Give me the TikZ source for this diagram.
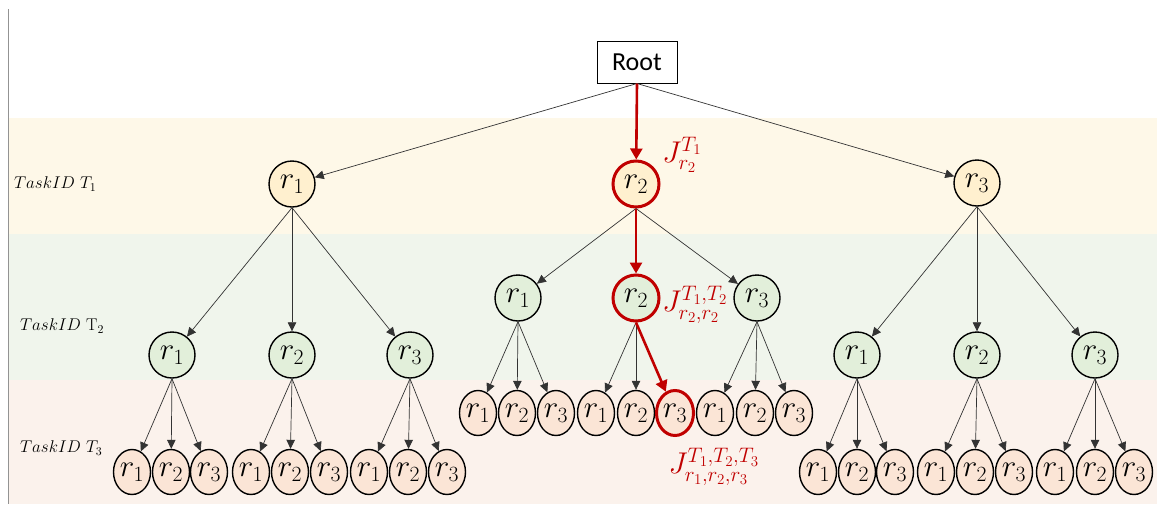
\RequirePackage{fix-cm}
\documentclass[tikz,border=0pt]{standalone}
\usepackage{fontspec}
\newfontfamily\rootfont{Carlito}
\usetikzlibrary{arrows.meta,shapes.geometric}

\definecolor{bandY}{HTML}{FEF8E8}
\definecolor{bandG}{HTML}{F0F5EC}
\definecolor{bandP}{HTML}{FBF2EC}
\definecolor{nodeY}{HTML}{FFF0CF}
\definecolor{nodeG}{HTML}{E2EFDA}
\definecolor{nodeP}{HTML}{FBE5D6}
\definecolor{hred}{HTML}{C00000}

% resource symbol with its index
\newcommand\rx[1]{$r_{#1}$}

\tikzset{
  mathsz/.style={font=\fontsize{31}{33}\selectfont},
  lvlone/.style={circle, draw, line width=1.4pt, fill=nodeY, minimum size=46pt, inner sep=0pt, mathsz},
  lvltwo/.style={circle, draw, line width=1.4pt, fill=nodeG, minimum size=46pt, inner sep=0pt, mathsz},
  leaf/.style={ellipse, draw, line width=1.4pt, fill=nodeP, minimum width=37pt, minimum height=45pt, inner sep=0pt, mathsz},
  sel/.style={draw=hred, line width=3pt},
  edge/.style={draw=black!80, line width=0.7pt, -{Triangle[length=9pt,width=8.5pt]}},
  redge/.style={draw=hred, line width=2.6pt, -{Triangle[length=11pt,width=12pt]}},
  tasklbl/.style={anchor=west, inner sep=0pt, font=\fontsize{17}{19}\selectfont},
  jlbl/.style={text=hred, inner sep=0pt, font=\fontsize{30}{32}\selectfont}
}

\begin{document}
\begin{tikzpicture}[x=1pt,y=-1pt]
\useasboundingbox (0,0) rectangle (1157,504);

% level bands
\fill[bandY] (9,118) rectangle (1157,234);
\fill[bandG] (9,234) rectangle (1157,380);
\fill[bandP] (9,380) rectangle (1157,504);
\draw[gray!85, line width=1.2pt] (8.5,9) -- (8.5,504);

% level captions
\node[tasklbl] (t1) at (14,184) {$TaskID~T_1$};
\node[tasklbl] (t2) at (20,326) {$TaskID~\mathrm{T}_2$};
\node[tasklbl] (t3) at (20,448) {$TaskID~T_3$};

% root
\node[draw, line width=1pt, fill=white, minimum width=80pt, minimum height=42pt,
      font=\rootfont\fontsize{26}{28}\selectfont] (root) at (637,62) {Root};

% first level
\node[lvlone] (a1) at (292,184) {\rx1};
\node[lvlone, sel] (a2) at (636,184) {\rx2};
\node[lvlone] (a3) at (977,183) {\rx3};

% second level
\node[lvltwo] (b11) at (172,355) {\rx1};
\node[lvltwo] (b12) at (292,355) {\rx2};
\node[lvltwo] (b13) at (410,355) {\rx3};
\node[lvltwo] (b21) at (518,298) {\rx1};
\node[lvltwo, sel] (b22) at (636,298) {\rx2};
\node[lvltwo] (b23) at (757,298) {\rx3};
\node[lvltwo] (b31) at (857,355) {\rx1};
\node[lvltwo] (b32) at (977,355) {\rx2};
\node[lvltwo] (b33) at (1095,355) {\rx3};

% third level
\node[leaf] (c111) at (132,472) {\rx1};
\node[leaf] (c112) at (171,472) {\rx2};
\node[leaf] (c113) at (209,472) {\rx3};
\node[leaf] (c121) at (251,472) {\rx1};
\node[leaf] (c122) at (290,472) {\rx2};
\node[leaf] (c123) at (329,472) {\rx3};
\node[leaf] (c131) at (369,472) {\rx1};
\node[leaf] (c132) at (408,472) {\rx2};
\node[leaf] (c133) at (447,472) {\rx3};

\node[leaf] (c211) at (478,413) {\rx1};
\node[leaf] (c212) at (517,413) {\rx2};
\node[leaf] (c213) at (556,413) {\rx3};
\node[leaf] (c221) at (596,413) {\rx1};
\node[leaf] (c222) at (636,413) {\rx2};
\node[leaf, sel] (c223) at (675,413) {\rx3};
\node[leaf] (c231) at (715,413) {\rx1};
\node[leaf] (c232) at (755,413) {\rx2};
\node[leaf] (c233) at (794,413) {\rx3};

\node[leaf] (c311) at (818,472) {\rx1};
\node[leaf] (c312) at (857,472) {\rx2};
\node[leaf] (c313) at (895,472) {\rx3};
\node[leaf] (c321) at (936,472) {\rx1};
\node[leaf] (c322) at (975,472) {\rx2};
\node[leaf] (c323) at (1014,472) {\rx3};
\node[leaf] (c331) at (1055,472) {\rx1};
\node[leaf] (c332) at (1095,472) {\rx2};
\node[leaf] (c333) at (1134,472) {\rx3};

% connectors
\draw[edge] (root.south) -- (a1);
\draw[edge] (root.south) -- (a3);
\foreach \p/\c in {a1/b11, a1/b12, a1/b13, a2/b21, a2/b23, a3/b31, a3/b32, a3/b33}
  \draw[edge] (\p.south) -- (\c);
\foreach \g in {11,12,13,21,23,31,32,33}
  \foreach \k in {1,2,3}
    \draw[edge] (b\g.south) -- (c\g\k);
\draw[edge] (b22.south) -- (c221);
\draw[edge] (b22.south) -- (c222);

% highlighted path
\draw[redge] (root.south) -- (a2);
\draw[redge] (a2.south) -- (b22);
\draw[redge] (b22.south) -- (c223);

% path labels
\node[jlbl] (j1) at (682,155) {$J^{T_1}_{r_2}$};
\node[jlbl] (j2) at (695,305) {$J^{T_1,T_2}_{r_2,r_2}$};
\node[jlbl] (j3) at (714,467) {$J^{T_1,T_2,T_3}_{r_1,r_2,r_3}$};
\end{tikzpicture}
\end{document}
